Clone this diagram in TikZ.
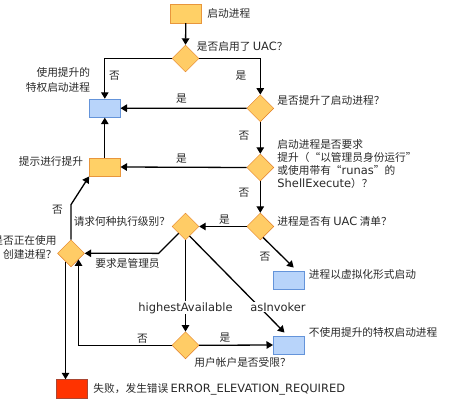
\documentclass[tikz,border=0pt]{standalone}
\usepackage{fontspec}
\setmainfont{DejaVu Sans}[Scale=1.07]
\newfontfamily\cjk{Noto Sans CJK SC}
\usetikzlibrary{shapes.geometric,arrows.meta,calc}

\definecolor{boxfill}{RGB}{255,208,102}
\definecolor{boxline}{RGB}{232,150,60}
\definecolor{dmdfill}{RGB}{255,204,102}
\definecolor{dmdline}{RGB}{225,125,35}
\definecolor{bluefill}{RGB}{184,212,250}
\definecolor{blueline}{RGB}{100,148,218}
\definecolor{failfill}{RGB}{255,51,0}
\definecolor{failline}{RGB}{170,70,50}
\definecolor{inkgray}{RGB}{40,40,40}

\newcommand{\lat}[1]{{\rmfamily #1}}

\tikzset{
  procbox/.style={draw=boxline,fill=boxfill,minimum width=31pt,minimum height=18.5pt,inner sep=0pt},
  endbox/.style={draw=blueline,fill=bluefill,minimum width=31pt,minimum height=18.5pt,inner sep=0pt},
  failbox/.style={draw=failline,fill=failfill,minimum width=31pt,minimum height=18.5pt,inner sep=0pt},
  decide/.style={diamond,draw=dmdline,fill=dmdfill,minimum width=27pt,minimum height=27pt,inner sep=0pt},
  flow/.style={line width=1.3pt,-{Triangle[length=6.5pt,width=7.5pt]}},
  lbl/.style={text=inkgray,inner sep=0.75pt,font=\fontsize{10.7}{13}\selectfont\cjk},
  tag/.style={text=inkgray,inner sep=1pt,fill=white,font=\fontsize{10.7}{13}\selectfont},
}

\begin{document}
\begin{tikzpicture}[x=1pt,y=1pt,yscale=-1]
\useasboundingbox (0,0) rectangle (454,412);

%Shape: Rectangle
\node[procbox] (start) at (185.8,13.7) {};
%Shape: Diamond
\node[decide] (uac) at (185.5,58.5) {};
%Shape: Rectangle
\node[endbox] (full) at (104.8,108.2) {};
%Shape: Diamond
\node[decide] (elev) at (260.3,108.3) {};
%Shape: Diamond
\node[decide] (ask) at (260.3,167.5) {};
%Shape: Rectangle
\node[procbox] (prompt) at (104.8,167) {};
%Shape: Diamond
\node[decide] (manifest) at (260.3,226.5) {};
%Shape: Diamond
\node[decide] (level) at (185.5,226.5) {};
%Shape: Rectangle
\node[endbox] (virt) at (288.7,280) {};
%Shape: Diamond
\node[decide] (create) at (71,253.3) {};
%Shape: Diamond
\node[decide] (limited) at (185.5,345.3) {};
%Shape: Rectangle
\node[endbox] (noelev) at (288.7,345) {};
%Shape: Rectangle
\node[failbox] (fail) at (71.3,388.7) {};

% Connectors
\draw[flow] (start.south) -- (uac.north);
\draw[flow] (uac.west) -| (full.north);
\draw[flow] (uac.east) -| (elev.north);
\draw[flow] (elev.west) -- (full.east);
\draw[flow] (elev.south) -- (ask.north);
\draw[flow] (ask.west) -- (prompt.east);
\draw[flow] (prompt.north) -- (full.south);
\draw[flow] (ask.south) -- (manifest.north);
\draw[flow] (manifest.west) -- (level.east);
\draw[flow] ($(manifest.south)!0.2!(manifest.east)$) -- ($(virt.north)+(5,-3)$);
\draw[flow] (level.south west) -- ++(-20,20) -- (create.east);
\draw[flow] (level.south) -- node[tag,pos=0.74] (hiavail) {highestAvailable} (limited.north);
\draw[flow] ($(level.south)!0.3!(level.east)$) -- ($(noelev.north west)+(11.5,-3)$);
\draw[flow] (limited.east) -- (noelev.west);
\draw[flow] (limited.west) -| ($(create.south)!0.55!(create.east)$);
\draw[flow] (create.north) -- ++(0,-35) -- (prompt.south west);
\draw[flow] ($(create.south)!0.4!(create.west)$) coordinate (cdown) -- (cdown |- fail.north);

% Text Node
\node[tag] (asinv) at (278,307) {asInvoker};

% Text Node
\node[lbl,anchor=west] (tstart) at (206.5,13.7) {启动进程};
% Text Node
\node[lbl,anchor=west] (tuac) at (196,46.5) {是否启用了 \lat{UAC}？};
% Text Node
\node[lbl,anchor=east,align=right,font=\fontsize{10.7}{14.5}\selectfont\cjk] (tfull) at (91,80) {使用提升的\\特权启动进程};
% Text Node
\node[lbl,anchor=west] (telev) at (276.5,100.5) {是否提升了启动进程？};
% Text Node
\node[lbl,anchor=west,align=left,font=\fontsize{10.7}{13.1}\selectfont\cjk] (task) at (276.5,163.7) {启动进程是否要求\\提升（“以管理员身份运行”\\或使用带有“\lat{runas}”的\\\lat{ShellExecute}）？};
% Text Node
\node[lbl,anchor=east] (tprompt) at (84,161) {提示进行提升};
% Text Node
\node[lbl,anchor=west] (tmanifest) at (276.5,221) {进程是否有 \lat{UAC} 清单？};
% Text Node
\node[lbl,anchor=east] (tlevel) at (171,221) {请求何种执行级别？};
% Text Node
\node[lbl,anchor=west] (tvirt) at (308,274) {进程以虚拟化形式启动};
% Text Node
\node[lbl,anchor=east,align=right,font=\fontsize{10.7}{14}\selectfont\cjk] (tcreate) at (57.5,247.7) {是否正在使用\\创建进程？};
% Text Node
\node[lbl,anchor=west] (tadmin) at (94.5,263.5) {要求是管理员};
% Text Node
\node[lbl,anchor=west] (tlimited) at (193.5,362) {用户帐户是否受限？};
% Text Node
\node[lbl,anchor=west] (tnoelev) at (308,332.3) {不使用提升的特权启动进程};
% Text Node
\node[lbl,anchor=west] (tfail) at (92.5,389.3) {失败，发生错误 \lat{ERROR\_ELEVATION\_REQUIRED}};

% Text Node
\node[lbl] (y1) at (241,76) {是};
\node[lbl] (n1) at (114.5,76) {否};
\node[lbl] (y2) at (181.5,99) {是};
\node[lbl] (n2) at (244,136) {否};
\node[lbl] (y3) at (181.5,159) {是};
\node[lbl] (n3) at (244,192.5) {否};
\node[lbl] (y4) at (224.5,220) {是};
\node[lbl] (n4) at (265,257) {否};
\node[lbl] (n5) at (57.5,210) {否};
\node[lbl] (n6) at (142.5,338.5) {否};
\node[lbl] (y6) at (225,337.5) {是};
\end{tikzpicture}
\end{document}
